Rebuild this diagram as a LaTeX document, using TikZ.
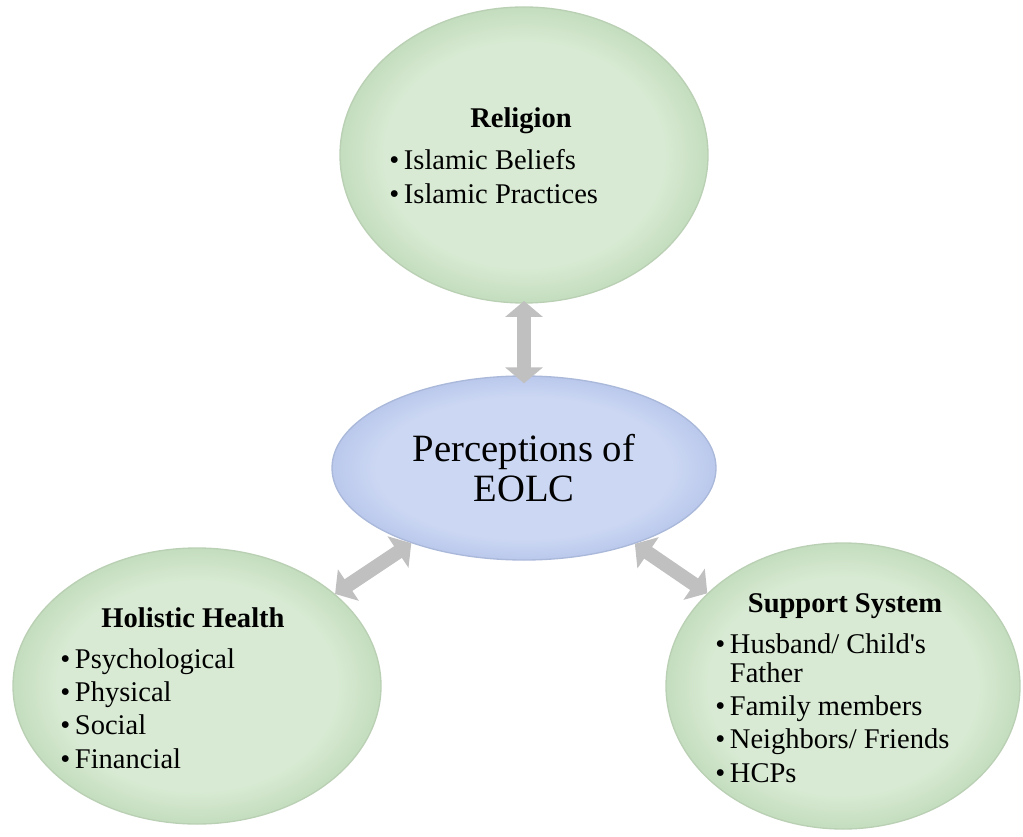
\documentclass[tikz,border=0pt]{standalone}
\usepackage{fontspec}
\setmainfont{Liberation Serif}
\usetikzlibrary{arrows.meta,shapes.geometric,shadings}
\definecolor{greenin}{RGB}{216,234,211}
\definecolor{greenout}{RGB}{196,221,190}
\definecolor{greenline}{RGB}{186,208,180}
\definecolor{bluein}{RGB}{204,216,243}
\definecolor{blueout}{RGB}{186,200,236}
\definecolor{blueline}{RGB}{170,184,218}
\definecolor{arrowgray}{RGB}{192,192,192}
\pgfdeclareradialshading{greenrim}{\pgfpoint{0bp}{0bp}}{color(0bp)=(greenin); color(19bp)=(greenin); color(25bp)=(greenout); color(50bp)=(greenout)}
\pgfdeclareradialshading{bluerim}{\pgfpoint{0bp}{0bp}}{color(0bp)=(bluein); color(19bp)=(bluein); color(25bp)=(blueout); color(50bp)=(blueout)}

\begin{document}
\begin{tikzpicture}[x=0.75pt,y=-0.75pt,
	greenell/.style={ellipse,inner sep=0pt,draw=greenline,line width=1pt,shading=greenrim},
	blueell/.style={ellipse,inner sep=0pt,draw=blueline,line width=1pt,shading=bluerim},
	link/.style={arrowgray,line width=10.5pt,{Triangle[width=27.75pt,length=12pt]}-{Triangle[width=27.75pt,length=12pt]}},
	head/.style={font=\fontsize{21.4}{25}\selectfont\bfseries,anchor=base,inner sep=0pt},
	items/.style={font=\fontsize{21.4}{25}\selectfont,anchor=base west,inner sep=0pt}]
	\useasboundingbox (0,0) rectangle (1023,837);
	%%%%%%%%%%%%%%% E L L I P S E S %%%%%%%%%%%%%%%%
	%centre
	\node [blueell,minimum width=288pt,minimum height=138pt,font=\fontsize{29}{30}\selectfont,align=center] (per) at (524,468) {Perceptions of\\EOLC};
	%religion
	\node [greenell,minimum width=276pt,minimum height=222pt] (rel) at (524,155) {};
	%holistic health
	\node [greenell,minimum width=276pt,minimum height=207pt] (hol) at (197,686) {};
	%support system
	\node [greenell,minimum width=265.5pt,minimum height=214.5pt] (sup) at (843,686) {};
	%%%%%%%%%%%%%%% A R R O W S %%%%%%%%%%%%%%%%
	\draw [link,shorten <=-2pt,shorten >=-6pt] (rel) -- (per);
	\draw [link] (per) -- (hol);
	\draw [link] (per) -- (sup);
	%%%%%%%%%%%%%%% T A G S %%%%%%%%%%%%%%%%
	\node [head] (relhead) at (521,128) {Religion};
	\node [items] (relitems) at (389,170) {\begin{tabular}[t]{@{}l@{\hspace{3.5pt}}l@{}}
		\textbullet & Islamic Beliefs\\
		\textbullet & Islamic Practices
	\end{tabular}};
	\node [head] (holhead) at (193,627) {Holistic Health};
	\node [items] (holitems) at (60,668) {\begin{tabular}[t]{@{}l@{\hspace{3.5pt}}l@{}}
		\textbullet & Psychological\\
		\textbullet & Physical\\
		\textbullet & Social\\
		\textbullet & Financial
	\end{tabular}};
	\node [head] (suphead) at (845,612) {Support System};
	\node [items] (supitems) at (715,653) {\begin{tabular}[t]{@{}l@{\hspace{3.5pt}}l@{}}
		\textbullet & Husband/ Child\textquotesingle s\\[-3.25pt]
		 & Father\\
		\textbullet & Family members\\
		\textbullet & Neighbors/ Friends\\
		\textbullet & HCPs
	\end{tabular}};
\end{tikzpicture}
\end{document}
